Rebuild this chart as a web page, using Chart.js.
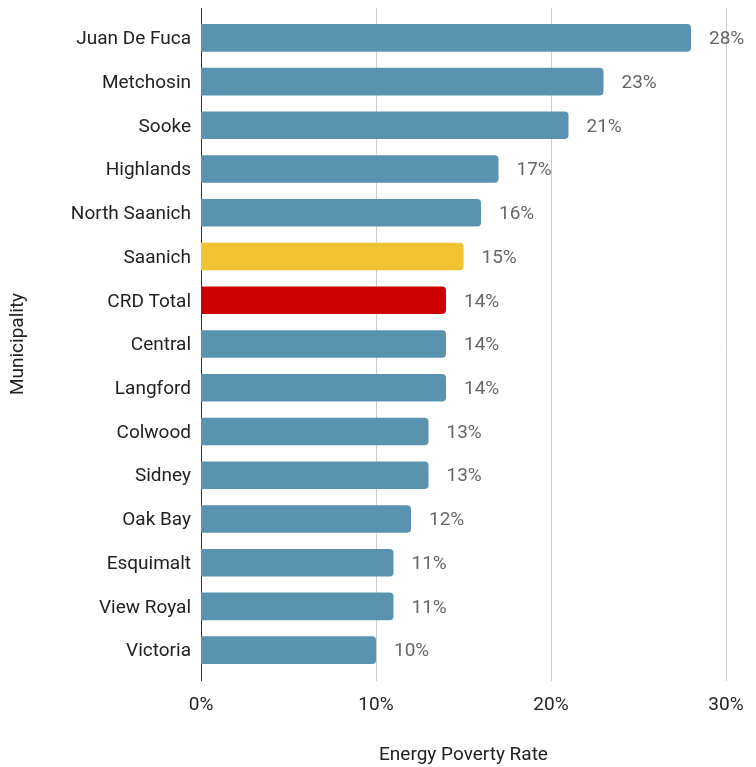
<!DOCTYPE html>
<html>
<head>
<meta charset="utf-8">
<script src="https://cdn.jsdelivr.net/npm/chart.js@4"></script>
<style>
  html, body { margin: 0; padding: 0; background: #fff; }
  #wrap { width: 756px; height: 767px; }
</style>
</head>
<body>
<div id="wrap"><canvas id="myChart" width="756" height="767"></canvas></div>
<script>
const municipalities = ["Juan De Fuca", "Metchosin", "Sooke", "Highlands", "North Saanich", "Saanich",
  "CRD Total", "Central", "Langford", "Colwood", "Sidney", "Oak Bay", "Esquimalt", "View Royal", "Victoria"];
const povertyRate = [28, 23, 21, 17, 16, 15, 14, 14, 14, 13, 13, 12, 11, 11, 10];
const xTicks = [0, 10, 20, 30];

const BLUE = "#5a93b0";
const barColors = municipalities.map(m => {
  if (m === "Saanich") return "#f1c232";
  if (m === "CRD Total") return "#cc0000";
  return BLUE;
});

const fontFamily = "Roboto, 'Noto Sans', sans-serif";
const FONT_SIZE = 19;

// vertical grid lines, running a little past the plot area at both ends
const gridPlugin = {
  id: "vGrid",
  beforeDatasetsDraw(chart) {
    const { ctx, chartArea, scales } = chart;
    ctx.save();
    xTicks.forEach(t => {
      const x = Math.round(scales.x.getPixelForValue(t)) + 0.5;
      ctx.beginPath();
      ctx.strokeStyle = t === 0 ? "#333333" : "#cccccc";
      ctx.lineWidth = 1;
      ctx.moveTo(x, chartArea.top - 8);
      ctx.lineTo(x, chartArea.bottom + 9);
      ctx.stroke();
    });
    ctx.restore();
  }
};

// percentage label after each bar
const valueLabels = {
  id: "valueLabels",
  afterDatasetsDraw(chart) {
    const { ctx } = chart;
    const meta = chart.getDatasetMeta(0);
    ctx.save();
    ctx.font = FONT_SIZE + "px " + fontFamily;
    ctx.fillStyle = "#666666";
    ctx.textAlign = "left";
    ctx.textBaseline = "middle";
    meta.data.forEach((bar, i) => {
      ctx.fillText(povertyRate[i] + "%", bar.x + 18, bar.y + 1.5);
    });
    ctx.restore();
  }
};

new Chart(document.getElementById("myChart"), {
  type: "bar",
  data: {
    labels: municipalities,
    datasets: [{
      label: "Energy Poverty Rate",
      data: povertyRate,
      backgroundColor: barColors,
      borderRadius: 4,
      borderSkipped: "start",
      barPercentage: 0.63,
      categoryPercentage: 1
    }]
  },
  options: {
    indexAxis: "y",
    responsive: false,
    animation: false,
    layout: { padding: { top: 16, right: 30, bottom: 0, left: 0 } },
    plugins: {
      legend: { display: false },
      tooltip: { enabled: false }
    },
    scales: {
      x: {
        min: 0,
        max: 30,
        afterFit(scale) {
          scale.height = 95;
          scale.paddingLeft = 0;
          scale.paddingRight = 0;
        },
        afterBuildTicks(scale) { scale.ticks = xTicks.map(v => ({ value: v })); },
        grid: { display: false, drawTicks: false },
        border: { display: false },
        ticks: {
          padding: 22,
          color: "#222222",
          font: { size: FONT_SIZE, family: fontFamily },
          callback: v => v + "%"
        },
        title: {
          display: true,
          text: "Energy Poverty Rate",
          color: "#222222",
          font: { size: FONT_SIZE, family: fontFamily },
          padding: { top: 0, bottom: 0 }
        }
      },
      y: {
        afterFit(scale) {
          scale.width = 201;
          scale.paddingTop = 0;
          scale.paddingBottom = 0;
        },
        grid: { display: false, drawTicks: false },
        border: { display: false },
        ticks: {
          padding: 10,
          labelOffset: 1.5,
          color: "#222222",
          font: { size: FONT_SIZE, family: fontFamily }
        },
        title: {
          display: true,
          text: "Municipality",
          color: "#222222",
          font: { size: FONT_SIZE, family: fontFamily },
          padding: { top: 7, bottom: 0 }
        }
      }
    }
  },
  plugins: [gridPlugin, valueLabels]
});
</script>
</body>
</html>
